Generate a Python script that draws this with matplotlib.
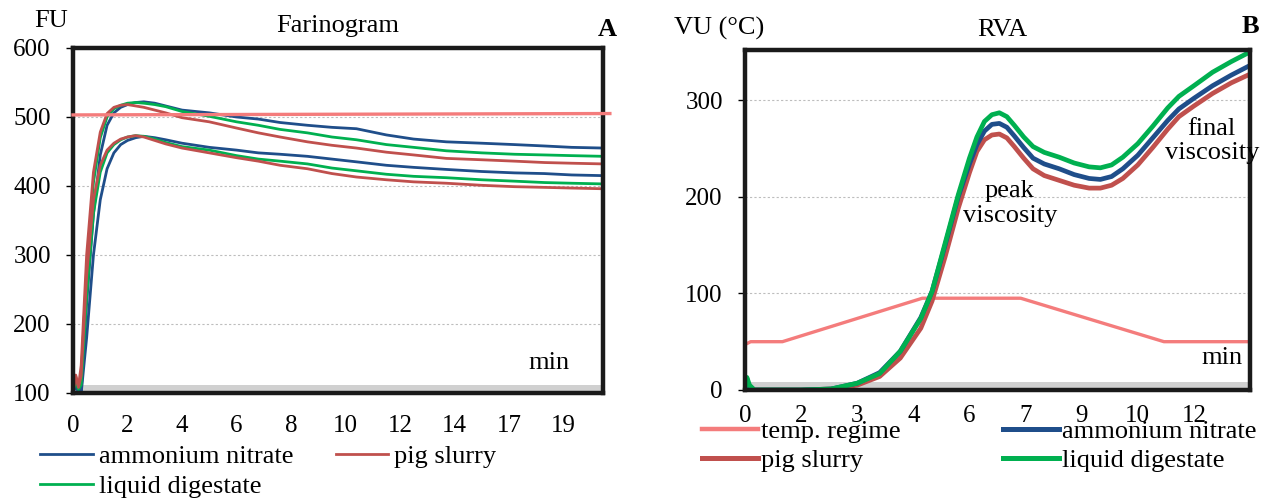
import matplotlib
matplotlib.use("Agg")
import matplotlib.pyplot as plt
from matplotlib.lines import Line2D

plt.rcParams["font.family"] = ["Liberation Serif", "DejaVu Serif"]

# ---- Farinogram (panel A); x = position along the category axis ----
far_ticks = [0, 2, 4, 6, 8, 10, 12, 14, 16, 18]
far_tick_labels = ["0", "2", "4", "6", "8", "10", "12", "14", "17", "19"]

far_x = [0, 0.1, 0.2, 0.3, 0.5, 0.75, 1.0, 1.25, 1.5, 1.75, 2.0, 2.3, 2.6, 3.0,
         3.4, 4.0, 5.0, 6.0, 6.8, 7.6, 8.6, 9.5, 10.4, 11.5, 12.5, 13.7, 15.0,
         16.2, 17.3, 18.3, 19.45]
an_upper = [104, 112, 104, 102, 230, 360, 445, 488, 506, 514, 518, 521, 522, 520,
            516, 510, 506, 500, 497, 492, 488, 485, 483, 474, 468, 464, 462,
            460, 458, 456, 455]
ps_upper = [104, 124, 110, 140, 300, 420, 478, 505, 514, 517, 518, 516, 514, 510,
            506, 499, 493, 484, 477, 471, 464, 459, 455, 449, 445, 440, 438,
            436, 434, 433, 432]
ld_upper = [104, 118, 106, 120, 280, 405, 470, 500, 512, 517, 520, 521, 520, 518,
            515, 508, 501, 493, 488, 482, 477, 471, 467, 460, 456, 451, 448,
            446, 445, 444, 443]
an_lower = [102, 108, 102, 100, 180, 300, 380, 425, 448, 460, 466, 470, 472, 470,
            467, 462, 456, 452, 448, 446, 443, 439, 435, 430, 427, 424, 421,
            419, 418, 416, 415]
ps_lower = [102, 126, 108, 125, 270, 380, 430, 452, 462, 468, 471, 473, 471, 466,
            461, 455, 448, 441, 436, 430, 425, 418, 413, 409, 406, 404, 401,
            399, 398, 397, 396]
ld_lower = [102, 120, 105, 112, 240, 360, 420, 448, 460, 467, 471, 473, 472, 468,
            463, 457, 452, 444, 439, 436, 432, 426, 422, 417, 414, 412, 409,
            407, 405, 404, 403]
far_ref_x = [0, 19.7]
far_ref_y = [503, 505]

# ---- RVA (panel B); x in minutes ----
rva_ticks = [0, 1.5, 3, 4.5, 6, 7.5, 9, 10.5, 12]
rva_tick_labels = ["0", "2", "3", "4", "6", "7", "9", "10", "12"]

temp_x = [0, 0.15, 1.0, 4.74, 7.37, 11.2, 11.4, 13.5]
temp_y = [47, 50, 50, 95, 95, 50, 50, 50]

rva_x = [0, 0.05, 0.12, 0.25, 1.5, 2.3, 3.0, 3.6, 4.15, 4.7, 5.0, 5.35, 5.7,
         6.0, 6.2, 6.4, 6.6, 6.8, 7.0, 7.2, 7.45, 7.7, 8.0, 8.4, 8.8, 9.2, 9.5,
         9.8, 10.1, 10.5, 10.9, 11.3, 11.6, 12.0, 12.5, 13.0, 13.5]
rva_ld = [0, 13, 5, 0, 0, 1, 7, 17, 40, 74, 102, 152, 202, 240, 262, 278, 285,
          287, 283, 274, 262, 252, 246, 241, 235, 231, 230, 233, 241, 255, 273,
          292, 304, 315, 329, 340, 350]
rva_an = [0, 10, 4, 0, 0, 1, 7, 18, 40, 75, 102, 150, 200, 234, 254, 268, 275,
          276, 272, 263, 251, 240, 234, 229, 223, 219, 218, 221, 229, 243, 261,
          279, 291, 302, 315, 326, 336]
rva_ps = [0, 8, 3, 0, 0, 1, 5, 14, 33, 64, 92, 138, 188, 225, 247, 259, 264,
          265, 261, 252, 240, 229, 222, 217, 212, 209, 209, 212, 219, 233, 251,
          270, 283, 294, 307, 318, 327]

C_AN = "#1F4E8A"
C_PS = "#C0504D"
C_LD = "#00B050"
C_T = "#F47C7C"
FS_TICK = 18
FS_TEXT = 19

fig = plt.figure(figsize=(12.72, 5.01), dpi=100)
ax1 = fig.add_axes([0.0574, 0.2156, 0.4167, 0.6886])
ax2 = fig.add_axes([0.5857, 0.2216, 0.397, 0.6786])

for ax in (ax1, ax2):
    for s in ax.spines.values():
        s.set_linewidth(3.2)
        s.set_color("#1a1a1a")
    ax.yaxis.grid(True, color="#bdbdbd", linestyle=(0, (2, 2)), linewidth=0.8)
    ax.set_axisbelow(True)
    ax.tick_params(axis="y", direction="out", length=5, width=1,
                   labelsize=FS_TICK, pad=11)
    ax.tick_params(axis="x", length=0, labelsize=FS_TICK)
ax1.tick_params(axis="x", pad=16)
ax2.tick_params(axis="x", pad=11)

# panel A
for v in [101, 104, 107, 110]:
    ax1.axhline(v, color="#cfcfcf", linewidth=1.4, zorder=1)
lw = 2.0
ax1.plot(far_x, an_upper, color=C_AN, lw=lw)
ax1.plot(far_x, an_lower, color=C_AN, lw=lw)
ax1.plot(far_x, ld_upper, color=C_LD, lw=lw)
ax1.plot(far_x, ld_lower, color=C_LD, lw=lw)
ax1.plot(far_x, ps_upper, color=C_PS, lw=lw)
ax1.plot(far_x, ps_lower, color=C_PS, lw=lw)
ax1.plot(far_ref_x, far_ref_y, color=C_T, lw=2.4, clip_on=False, zorder=5)
ax1.set_xlim(0, 19.45)
ax1.set_ylim(100, 600)
ax1.set_yticks([100, 200, 300, 400, 500, 600])
ax1.set_xticks(far_ticks)
ax1.set_xticklabels(far_tick_labels)
ax1.text(0.5, 1.064, "Farinogram", transform=ax1.transAxes, ha="center",
         va="center", fontsize=FS_TEXT)
ax1.text(1.008, 1.055, "A", transform=ax1.transAxes, ha="center", va="center",
         fontsize=FS_TEXT, fontweight="bold")
ax1.text(-0.041, 1.078, "FU", transform=ax1.transAxes, ha="center",
         va="center", fontsize=FS_TEXT)
ax1.text(17.45, 143, "min", ha="center", va="center", fontsize=FS_TEXT)

h1 = [Line2D([], [], color=C_AN, lw=2), Line2D([], [], color=C_LD, lw=2),
      Line2D([], [], color=C_PS, lw=2)]
fig.legend(h1, ["ammonium nitrate", "liquid digestate", "pig slurry"],
           ncol=2, loc="upper left", bbox_to_anchor=(0.0314, 0.113),
           frameon=False, fontsize=FS_TEXT, handlelength=2.0,
           handletextpad=0.23, columnspacing=1.6, labelspacing=0.25,
           borderpad=0, borderaxespad=0)

# panel B
for v in [1, 3, 5, 7]:
    ax2.axhline(v, color="#cfcfcf", linewidth=1.4, zorder=1)
ax2.plot(temp_x, temp_y, color=C_T, lw=2.4)
ax2.plot(rva_x, rva_ps, color=C_PS, lw=3.4, solid_capstyle="round")
ax2.plot(rva_x, rva_an, color=C_AN, lw=3.4, solid_capstyle="round")
ax2.plot(rva_x, rva_ld, color=C_LD, lw=3.4, solid_capstyle="round")
ax2.set_xlim(0, 13.5)
ax2.set_ylim(0, 352)
ax2.set_yticks([0, 100, 200, 300])
ax2.set_xticks(rva_ticks)
ax2.set_xticklabels(rva_tick_labels)
ax2.text(0.51, 1.059, "RVA", transform=ax2.transAxes, ha="center",
         va="center", fontsize=FS_TEXT)
ax2.text(1.0, 1.068, "B", transform=ax2.transAxes, ha="center", va="center",
         fontsize=FS_TEXT, fontweight="bold")
ax2.text(-0.051, 1.062, "VU (°C)", transform=ax2.transAxes, ha="center",
         va="center", fontsize=FS_TEXT)
ax2.text(12.75, 33, "min", ha="center", va="center", fontsize=FS_TEXT)
ax2.text(7.08, 193, "peak\nviscosity", ha="center", va="center",
         fontsize=FS_TEXT, linespacing=1.15)
ax2.text(12.48, 258, "final\nviscosity", ha="center", va="center",
         fontsize=FS_TEXT, linespacing=1.15, clip_on=False)

h2 = [Line2D([], [], color=C_T, lw=3.2), Line2D([], [], color=C_PS, lw=3.6),
      Line2D([], [], color=C_AN, lw=3.6), Line2D([], [], color=C_LD, lw=3.6)]
fig.legend(h2, ["temp. regime", "pig slurry", "ammonium nitrate", "liquid digestate"],
           ncol=2, loc="upper left", bbox_to_anchor=(0.552, 0.162),
           frameon=False, fontsize=FS_TEXT, handlelength=2.1,
           handletextpad=0.12, columnspacing=3.9, labelspacing=0.2,
           borderpad=0, borderaxespad=0)

fig.savefig("out.png", dpi=100)
